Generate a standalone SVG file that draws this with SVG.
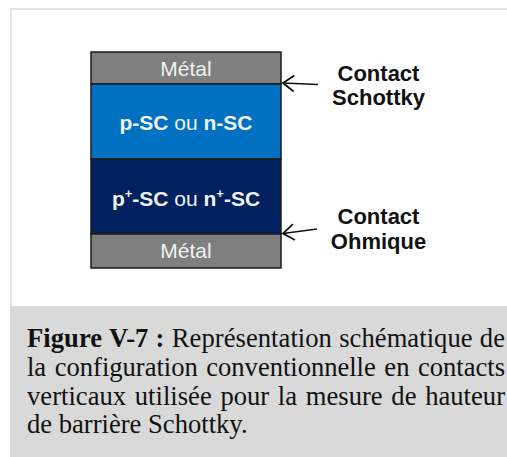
<svg xmlns="http://www.w3.org/2000/svg" width="507" height="457" viewBox="0 0 507 457">
<style>
.layer{stroke:#1a1a1a;stroke-width:1.5}
.lt{font-family:"Liberation Sans",Arial,sans-serif;font-size:21px;fill:#f2f2f2;text-anchor:middle}
.b{font-weight:bold}
.lab{font-family:"Liberation Sans",Arial,sans-serif;font-size:22px;font-weight:bold;fill:#111;text-anchor:middle}
.cap{font-family:"Liberation Serif","Times New Roman",serif;font-size:26.6px;fill:#111}
.conn{stroke:#111;stroke-width:1.6;fill:none}
</style>
<defs>
<marker id="head" viewBox="-1 -10 15 20" refX="12" refY="0" markerWidth="15" markerHeight="20" markerUnits="userSpaceOnUse" orient="auto">
<path d="M1,-8 L12,0 L1,8" fill="none" stroke="#111" stroke-width="1.8"/>
</marker>
</defs>
<g id="frame">
<rect x="10" y="8" width="497" height="449" fill="#e3e3e3"/>
<rect x="12" y="10" width="495" height="296" fill="#ffffff"/>
<rect x="10" y="306" width="497" height="151" fill="#d9d9d9"/>
</g>
<g id="metal-top">
<rect class="layer" x="91" y="52" width="190" height="32" fill="#7f7f7f"/>
<text class="lt" x="186" y="76">Métal</text>
</g>
<g id="sc-layer">
<rect class="layer" x="91" y="84" width="190" height="75" fill="#0070c0"/>
<text class="lt" x="186" y="130"><tspan class="b">p-SC</tspan> ou <tspan class="b">n-SC</tspan></text>
</g>
<g id="sc-plus-layer">
<rect class="layer" x="91" y="159" width="190" height="75" fill="#002060"/>
<text class="lt" x="186" y="206"><tspan class="b">p<tspan font-size="13" dy="-8">+</tspan><tspan dy="8">-SC</tspan></tspan> ou <tspan class="b">n<tspan font-size="13" dy="-8">+</tspan><tspan dy="8">-SC</tspan></tspan></text>
</g>
<g id="metal-bottom">
<rect class="layer" x="91" y="234" width="190" height="34" fill="#7f7f7f"/>
<text class="lt" x="186" y="258">Métal</text>
</g>
<g id="label-schottky">
<text class="lab" x="378.5" y="81">Contact</text>
<text class="lab" x="378.5" y="105">Schottky</text>
</g>
<g id="label-ohmique">
<text class="lab" x="378.5" y="224">Contact</text>
<text class="lab" x="378.5" y="249">Ohmique</text>
</g>
<g id="connectors">
<line class="conn" x1="318" y1="84.5" x2="283" y2="83" marker-end="url(#head)"/>
<line class="conn" x1="317" y1="229" x2="283" y2="233.5" marker-end="url(#head)"/>
</g>
<g id="caption">
<text class="cap" x="27" y="347" textLength="478" lengthAdjust="spacing" word-spacing="0.5"><tspan font-weight="bold">Figure V-7 :</tspan> Représentation schématique de</text>
<text class="cap" x="27" y="376" textLength="478" lengthAdjust="spacing" word-spacing="2">la configuration conventionnelle en contacts</text>
<text class="cap" x="27" y="404.5" textLength="478" lengthAdjust="spacing" word-spacing="2">verticaux utilisée pour la mesure de hauteur</text>
<text class="cap" x="27" y="433">de barrière Schottky.</text>
</g>
</svg>
